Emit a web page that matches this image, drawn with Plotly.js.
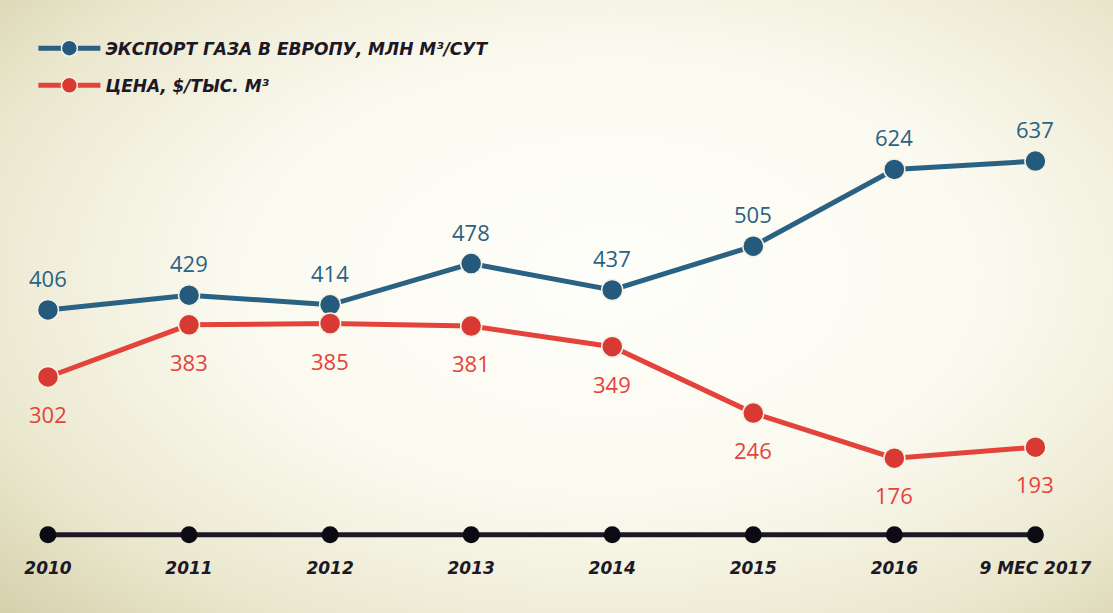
<!DOCTYPE html>
<html>
<head>
<meta charset="utf-8">
<script src="https://cdn.plot.ly/plotly-3.0.1.min.js"></script>
<style>
  html, body { margin: 0; padding: 0; }
  body {
    width: 1113px; height: 613px; overflow: hidden;
    background: radial-gradient(ellipse 75% 80% at 55% 45%, #fefefa 0%, #fbfaf0 45%, #ebe8cf 78%, #d6d1ac 100%);
  }
  #chart { width: 1113px; height: 613px; }
</style>
</head>
<body>
<div id="chart"></div>
<script>
var years = ['2010', '2011', '2012', '2013', '2014', '2015', '2016', '9 МЕС 2017'];
var exportGas = [406, 429, 414, 478, 437, 505, 624, 637];
var price = [302, 383, 385, 381, 349, 246, 176, 193];

var blue = '#2a6283';
var red = '#e4433b';
var ink = '#1c1826';

var boldItalic = {family: 'DejaVu Sans', size: 17, color: ink, weight: 'bold', style: 'italic'};

var traceExport = {
  x: years,
  y: exportGas,
  type: 'scatter',
  mode: 'lines+markers',
  name: 'ЭКСПОРТ ГАЗА В ЕВРОПУ, МЛН М³/СУТ',
  legendgroup: 'a',
  line: {color: blue, width: 5},
  marker: {color: '#245a7b', size: 21, line: {color: '#f4f2e2', width: 1.5}},
  hoverinfo: 'none'
};

var tracePrice = {
  x: years,
  y: price,
  type: 'scatter',
  mode: 'lines+markers',
  name: 'ЦЕНА, $/ТЫС. М³',
  legendgroup: 'b',
  line: {color: red, width: 5},
  marker: {color: '#d83a33', size: 21, line: {color: '#f4f2e2', width: 1.5}},
  hoverinfo: 'none'
};

var traceTimeline = {
  x: years,
  y: years.map(function () { return 0; }),
  yaxis: 'y2',
  type: 'scatter',
  mode: 'lines+markers',
  showlegend: false,
  line: {color: ink, width: 5},
  marker: {color: '#0c0a12', size: 17},
  hoverinfo: 'none'
};

// value labels, placed by category index on the shared axes
var annotations = [];
for (var i = 0; i < years.length; i++) {
  annotations.push({
    x: i, y: exportGas[i], text: String(exportGas[i]),
    showarrow: false, yshift: 32,
    font: {family: 'Open Sans', size: 22, color: blue}
  });
  annotations.push({
    x: i, y: price[i], text: String(price[i]),
    showarrow: false, yshift: -37,
    font: {family: 'Open Sans', size: 22, color: red}
  });
}

var layout = {
  width: 1113,
  height: 613,
  paper_bgcolor: 'rgba(0,0,0,0)',
  plot_bgcolor: 'rgba(0,0,0,0)',
  margin: {l: 0, r: 0, t: 0, b: 0},
  showlegend: true,
  legend: {
    x: 0.03, y: 0.95, xanchor: 'left', yanchor: 'top',
    font: boldItalic,
    itemwidth: 62,
    traceorder: 'grouped',
    tracegroupgap: 12,
    bgcolor: 'rgba(0,0,0,0)'
  },
  xaxis: {
    type: 'category',
    range: [-0.34, 7.55],
    anchor: 'y2',
    showgrid: false,
    zeroline: false,
    showline: false,
    ticks: '',
    ticklabelstandoff: 10,
    tickfont: boldItalic,
    fixedrange: true
  },
  yaxis: {
    domain: [0.2, 1],
    range: [126, 887],
    visible: false,
    fixedrange: true
  },
  yaxis2: {
    domain: [0.11, 0.145],
    range: [-1, 1],
    visible: false,
    fixedrange: true
  },
  annotations: annotations
};

Plotly.newPlot('chart', [traceTimeline, traceExport, tracePrice], layout, {displayModeBar: false, staticPlot: true});
</script>
</body>
</html>
